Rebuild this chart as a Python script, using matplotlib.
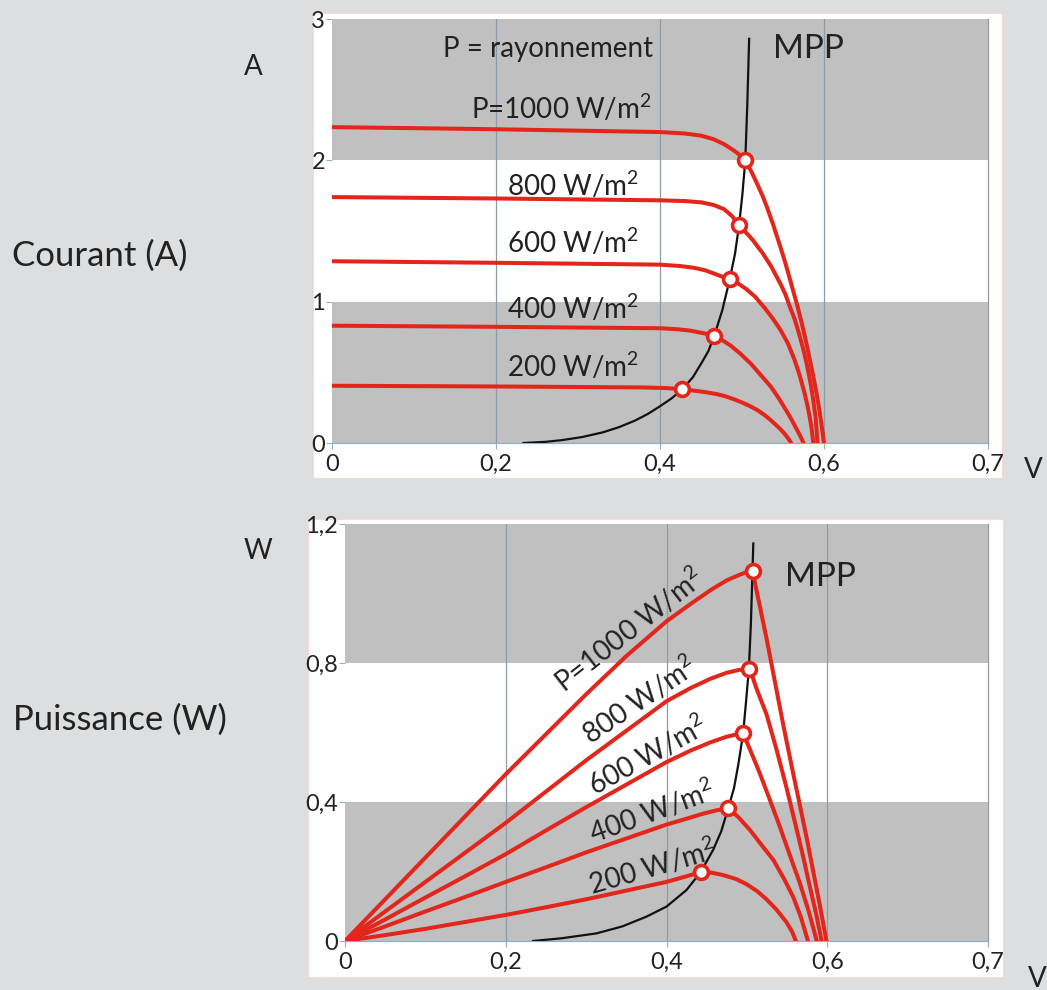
import matplotlib
matplotlib.use('Agg')
import matplotlib.pyplot as plt
from matplotlib.patches import Rectangle

plt.rcParams['font.family'] = ['Lato', 'DejaVu Sans']
plt.rcParams['mathtext.fontset'] = 'custom'
plt.rcParams['mathtext.rm'] = 'Lato'
plt.rcParams['mathtext.it'] = 'Lato:italic'

# courbes courant / tension
labels_i = [r'P=1000 W/m$^{\mathrm{2}}$', r'800 W/m$^{\mathrm{2}}$', r'600 W/m$^{\mathrm{2}}$',
            r'400 W/m$^{\mathrm{2}}$', r'200 W/m$^{\mathrm{2}}$']
v_i = [
    [0, 0.2, 0.4, 0.43, 0.45, 0.465, 0.478, 0.49, 0.498, 0.504, 0.511, 0.518, 0.525, 0.531, 0.538, 0.545,
     0.551, 0.556, 0.562, 0.568, 0.573, 0.578, 0.582, 0.586, 0.590, 0.593, 0.596, 0.600],
    [0, 0.2, 0.4, 0.43, 0.45, 0.465, 0.478, 0.488, 0.4964, 0.503, 0.508, 0.514, 0.519, 0.525, 0.53, 0.536,
     0.541, 0.547, 0.553, 0.558, 0.564, 0.569, 0.574, 0.578, 0.581, 0.584, 0.587, 0.590, 0.592],
    [0, 0.2, 0.4, 0.425, 0.441, 0.455, 0.47, 0.478, 0.485, 0.495, 0.505, 0.516, 0.527, 0.537, 0.547, 0.556,
     0.564, 0.570, 0.576, 0.580, 0.583, 0.585, 0.587],
    [0, 0.2, 0.4, 0.421, 0.437, 0.45, 0.459, 0.466, 0.476, 0.486, 0.498, 0.511, 0.523, 0.535, 0.545, 0.555,
     0.561, 0.566, 0.571, 0.575],
    [0, 0.2, 0.38, 0.41, 0.427, 0.44, 0.455, 0.47, 0.48, 0.49, 0.50, 0.51, 0.519, 0.527, 0.534, 0.541,
     0.547, 0.552, 0.556, 0.56],
]
i_i = [
    [2.235, 2.22, 2.20, 2.19, 2.175, 2.15, 2.115, 2.07, 2.035, 2.0, 1.925, 1.84, 1.75, 1.66, 1.545, 1.42,
     1.31, 1.21, 1.085, 0.96, 0.845, 0.72, 0.61, 0.50, 0.38, 0.28, 0.17, 0],
    [1.74, 1.73, 1.717, 1.712, 1.703, 1.685, 1.655, 1.605, 1.54, 1.50, 1.47, 1.43, 1.39, 1.345, 1.30, 1.245,
     1.19, 1.125, 1.05, 0.97, 0.88, 0.785, 0.68, 0.585, 0.50, 0.41, 0.30, 0.17, 0],
    [1.286, 1.275, 1.262, 1.252, 1.24, 1.222, 1.19, 1.172, 1.157, 1.13, 1.09, 1.035, 0.96, 0.885, 0.80, 0.705,
     0.59, 0.485, 0.36, 0.26, 0.17, 0.10, 0],
    [0.83, 0.822, 0.812, 0.805, 0.795, 0.78, 0.77, 0.756, 0.727, 0.69, 0.632, 0.56, 0.48, 0.40, 0.315, 0.22,
     0.16, 0.105, 0.05, 0],
    [0.405, 0.40, 0.393, 0.388, 0.379, 0.372, 0.36, 0.345, 0.33, 0.31, 0.287, 0.26, 0.232, 0.20, 0.167, 0.13,
     0.097, 0.065, 0.035, 0],
]
mpp_v_i = [0.504, 0.4964, 0.485, 0.466, 0.427]
mpp_i = [2.0, 1.54, 1.157, 0.756, 0.379]
ligne_v_i = [0.2335, 0.26, 0.28, 0.305, 0.33, 0.35, 0.37, 0.385, 0.40, 0.414, 0.427, 0.44, 0.45, 0.459,
             0.466, 0.476, 0.485, 0.4915, 0.4964, 0.5005, 0.504, 0.5065, 0.5087]
ligne_i = [0, 0.008, 0.02, 0.042, 0.075, 0.112, 0.16, 0.205, 0.26, 0.315, 0.379, 0.465, 0.56, 0.65,
           0.756, 0.94, 1.157, 1.34, 1.54, 1.76, 2.0, 2.4, 2.86]
lab_pos_i = [(0.280, 2.37), (0.294, 1.823), (0.294, 1.42), (0.294, 0.954), (0.294, 0.544)]

# courbes puissance / tension
v_p = [
    [0, 0.05, 0.1, 0.15, 0.2, 0.25, 0.3, 0.35, 0.4, 0.43, 0.455, 0.475, 0.49, 0.5, 0.507,
     0.511, 0.516, 0.5245, 0.535, 0.545, 0.556, 0.566, 0.575, 0.583, 0.591, 0.599],
    [0, 0.05, 0.1, 0.15, 0.2, 0.25, 0.3, 0.35, 0.4, 0.43, 0.455, 0.475, 0.49, 0.5025,
     0.507, 0.513, 0.5245, 0.537, 0.549, 0.56, 0.57, 0.578, 0.586, 0.593],
    [0, 0.05, 0.1, 0.15, 0.2, 0.25, 0.3, 0.35, 0.4, 0.43, 0.455, 0.475, 0.488, 0.4954,
     0.5, 0.505, 0.516, 0.528, 0.541, 0.553, 0.566, 0.577, 0.587],
    [0, 0.05, 0.1, 0.15, 0.2, 0.25, 0.3, 0.35, 0.4, 0.425, 0.445, 0.462, 0.4768,
     0.483, 0.49, 0.504, 0.518, 0.533, 0.546, 0.5576, 0.567, 0.576],
    [0, 0.05, 0.1, 0.15, 0.2, 0.25, 0.3, 0.35, 0.4, 0.42, 0.4424,
     0.455, 0.47, 0.487, 0.50, 0.513, 0.5245, 0.537, 0.549, 0.556, 0.561],
]
p_p = [
    [0, 0.12, 0.24, 0.36, 0.48, 0.595, 0.71, 0.82, 0.92, 0.97, 1.01, 1.038, 1.053, 1.062, 1.066,
     1.02, 0.965, 0.87, 0.745, 0.625, 0.50, 0.39, 0.29, 0.195, 0.10, 0],
    [0, 0.085, 0.17, 0.255, 0.34, 0.43, 0.52, 0.605, 0.69, 0.728, 0.755, 0.772, 0.78, 0.783,
     0.76, 0.72, 0.652, 0.55, 0.444, 0.34, 0.243, 0.16, 0.08, 0],
    [0, 0.062, 0.125, 0.187, 0.25, 0.318, 0.385, 0.45, 0.515, 0.548, 0.572, 0.588, 0.595, 0.598,
     0.572, 0.545, 0.483, 0.41, 0.329, 0.25, 0.166, 0.085, 0],
    [0, 0.042, 0.085, 0.127, 0.17, 0.212, 0.255, 0.295, 0.335, 0.352, 0.366, 0.376, 0.382,
     0.37, 0.355, 0.319, 0.277, 0.233, 0.18, 0.127, 0.07, 0],
    [0, 0.017, 0.035, 0.055, 0.075, 0.097, 0.12, 0.145, 0.17, 0.183, 0.198,
     0.197, 0.19, 0.178, 0.163, 0.143, 0.12, 0.09, 0.055, 0.028, 0],
]
mpp_v_p = [0.507, 0.5025, 0.4954, 0.4768, 0.4424]
mpp_p = [1.066, 0.783, 0.598, 0.382, 0.198]
ligne_v_p = [0.234, 0.27, 0.313, 0.345, 0.375, 0.40, 0.425, 0.4424, 0.458, 0.468, 0.4768, 0.484,
             0.4895, 0.4954, 0.499, 0.5025, 0.505, 0.507, 0.508]
ligne_p = [0, 0.008, 0.022, 0.042, 0.07, 0.099, 0.147, 0.198, 0.262, 0.315, 0.382, 0.44,
           0.51, 0.598, 0.69, 0.783, 0.914, 1.066, 1.144]
lab_pos_p = [(0.354, 0.895), (0.367, 0.694), (0.377, 0.535), (0.382, 0.371), (0.383, 0.213)]
lab_rot_p = [38, 34, 29, 20, 16]

xticks = [0, 0.2, 0.4, 0.6, 0.8]
xticklabels = ['0', '0,2', '0,4', '0,6', '0,7']
yticks_i = [0, 1, 2, 3]
yticklabels_i = ['0', '1', '2', '3']
yticks_p = [0, 0.4, 0.8, 1.2]
yticklabels_p = ['0', '0,4', '0,8', '1,2']

rouge = '#e3261c'
gris = '#c0c0c0'
txt = '#222222'

W, H = 1047, 990
fig = plt.figure(figsize=(W / 100, H / 100), dpi=100, facecolor='#dcdee0')

# cartes blanches
fig.add_artist(Rectangle((313 / W, 1 - 478 / H), 689 / W, 465 / H, transform=fig.transFigure,
                         facecolor='white', edgecolor='#f5dcd4', lw=0.8, zorder=0))
fig.add_artist(Rectangle((308 / W, 1 - 977 / H), 695 / W, 458 / H, transform=fig.transFigure,
                         facecolor='white', edgecolor='#f5dcd4', lw=0.8, zorder=0))


def prepare(ax, ymax, bands, yt, ytl):
    ax.set_facecolor('none')
    ax.set_xlim(0, 0.8)
    ax.set_ylim(0, ymax)
    for b0, b1 in bands:
        ax.axhspan(b0, b1, color=gris, lw=0, zorder=0)
    for x in [0.2, 0.4, 0.6]:
        ax.axvline(x, color='#8e9aa4', lw=0.9, zorder=1)
    for s in ['top', 'left']:
        ax.spines[s].set_visible(False)
    ax.spines['bottom'].set_color('#8fb0c8')
    ax.spines['bottom'].set_linewidth(0.9)
    ax.spines['right'].set_color('#9a9a9a')
    ax.spines['right'].set_linewidth(0.9)
    ax.set_xticks(xticks)
    ax.set_xticklabels(xticklabels)
    ax.set_yticks(yt)
    ax.set_yticklabels(ytl)
    ax.tick_params(axis='both', labelsize=17, colors='#8fb0c8', labelcolor=txt, length=4, width=0.8)
    ax.tick_params(axis='x', pad=4)
    ax.tick_params(axis='y', pad=1)


# --- courant ---
ax1 = fig.add_axes([332 / W, 1 - 443 / H, 656 / W, 424 / H])
prepare(ax1, 3, [(0, 1), (2, 3)], yticks_i, yticklabels_i)
ax1.plot(ligne_v_i, ligne_i, color='#111111', lw=1.6, zorder=3)
for k in range(5):
    ax1.plot(v_i[k], i_i[k], color=rouge, lw=2.9, solid_joinstyle='round', solid_capstyle='round', zorder=4)
    ax1.text(lab_pos_i[k][0], lab_pos_i[k][1], labels_i[k], fontsize=20, color=txt, ha='center', va='center')
ax1.plot(mpp_v_i, mpp_i, 'o', ms=10, mfc='white', mec=rouge, mew=2.6, zorder=5)
ax1.text(0.264, 2.79, 'P = rayonnement', fontsize=20, color=txt, ha='center', va='center')
ax1.text(0.5815, 2.79, 'MPP', fontsize=24, color=txt, ha='center', va='center')

# --- puissance ---
ax2 = fig.add_axes([345 / W, 1 - 941 / H, 643 / W, 417 / H])
prepare(ax2, 1.2, [(0, 0.4), (0.8, 1.2)], yticks_p, yticklabels_p)
ax2.plot(ligne_v_p, ligne_p, color='#111111', lw=1.6, zorder=3)
for k in range(5):
    ax2.plot(v_p[k], p_p[k], color=rouge, lw=2.9, solid_joinstyle='round', solid_capstyle='round', zorder=4)
    ax2.text(lab_pos_p[k][0], lab_pos_p[k][1], labels_i[k], fontsize=20, color=txt,
             ha='center', va='center', rotation=lab_rot_p[k], rotation_mode='anchor')
ax2.plot(mpp_v_p, mpp_p, 'o', ms=10, mfc='white', mec=rouge, mew=2.6, zorder=5)
ax2.text(0.591, 1.047, 'MPP', fontsize=24, color=txt, ha='center', va='center')

# titres des axes
fig.text(253 / W, 1 - 67 / H, 'A', fontsize=20, color=txt, ha='center', va='center')
fig.text(100 / W, 1 - 256 / H, 'Courant (A)', fontsize=25, color=txt, ha='center', va='center')
fig.text(1033 / W, 1 - 470 / H, 'V', fontsize=20, color=txt, ha='center', va='center')
fig.text(258 / W, 1 - 551 / H, 'W', fontsize=20, color=txt, ha='center', va='center')
fig.text(120 / W, 1 - 720 / H, 'Puissance (W)', fontsize=25, color=txt, ha='center', va='center')
fig.text(1037 / W, 1 - 966 / H, 'V', fontsize=20, color=txt, ha='center', va='top')

plt.savefig('out.png', dpi=100, facecolor=fig.get_facecolor())
